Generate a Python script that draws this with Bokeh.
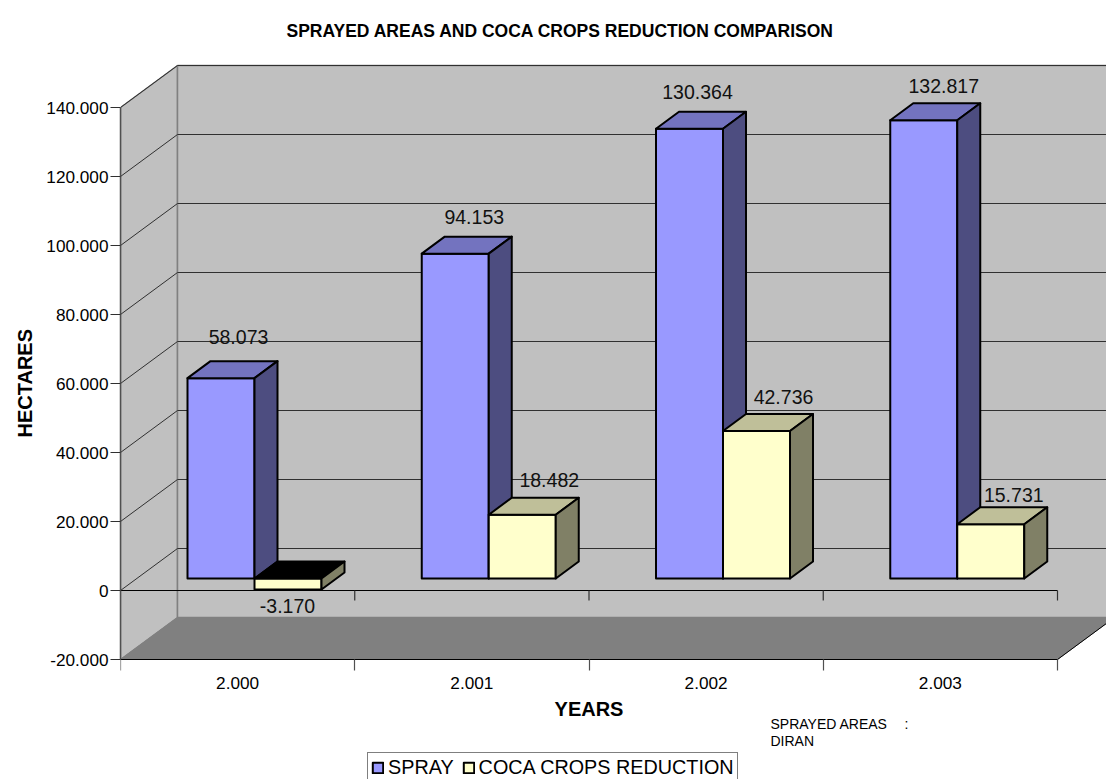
from bokeh.plotting import figure
from bokeh.models import (Range1d, LinearAxis, FixedTicker, Legend, LegendItem,
                          Label, Title)
from bokeh.core.properties import value
from bokeh.embed import file_html
from bokeh.resources import INLINE

# ---- data ----
YEARS = ["2.000", "2.001", "2.002", "2.003"]
SPRAY = [58073, 94153, 130364, 132817]
COCA = [-3170, 18482, 42736, 15731]
SPRAY_LABELS = ["58.073", "94.153", "130.364", "132.817"]
COCA_LABELS = ["-3.170", "18.482", "42.736", "15.731"]
Y_TICKS = [-20000, 0, 20000, 40000, 60000, 80000, 100000, 120000, 140000]
Y_TICK_LABELS = ["-20.000", "0", "20.000", "40.000", "60.000", "80.000", "100.000", "120.000", "140.000"]

# ---- layout constants (page pixels) ----
PX_X = 234.25          # pixels per category
PX_Y = 3.45 / 1000     # pixels per hectare
FONT = "Liberation Sans"
W, H = 1106, 779
FRAME_L, FRAME_T, AXIS_Y = 120, 40, 659
FRAME_R, FRAME_B = W, H

def ddx(px): return px / PX_X
def ddy(px): return px / PX_Y

WALL_DX, WALL_DY = ddx(57), ddy(42)
BAR_DX, BAR_DY = ddx(17), ddy(12)
DEPTH_DX, DEPTH_DY = ddx(23), ddy(17)
BAR_W = 67 / PX_X
INNER = 50 / PX_X

Y_MIN, Y_MAX = Y_TICKS[0], Y_TICKS[-1]
x_end = (FRAME_R - FRAME_L) / PX_X
y_top = Y_MIN + ddy(AXIS_Y - FRAME_T)
y_bot = Y_MIN - ddy(FRAME_B - AXIS_Y)

p = figure(width=W, height=H, output_backend="svg", toolbar_location=None,
           x_range=Range1d(0, x_end), y_range=Range1d(y_bot, y_top),
           x_axis_type=None, y_axis_type=None,
           min_border_left=FRAME_L, min_border_right=0,
           min_border_top=FRAME_T, min_border_bottom=0,
           outline_line_color=None, background_fill_color="white")

n = len(YEARS)
# walls and floor
p.patch([0, WALL_DX, WALL_DX, 0], [Y_MIN, Y_MIN + WALL_DY, Y_MAX + WALL_DY, Y_MAX],
        fill_color="#c0c0c0", line_color="#808080", line_width=1.5)
p.patch([WALL_DX, n + WALL_DX, n + WALL_DX, WALL_DX],
        [Y_MIN + WALL_DY, Y_MIN + WALL_DY, Y_MAX + WALL_DY, Y_MAX + WALL_DY],
        fill_color="#c0c0c0", line_color="#808080", line_width=1.5)
p.patch([0, WALL_DX, n + WALL_DX, n], [Y_MIN, Y_MIN + WALL_DY, Y_MIN + WALL_DY, Y_MIN],
        fill_color="#808080", line_color="#808080", line_width=1)
# gridlines
grid = [t for t in Y_TICKS if t > Y_MIN]
p.multi_line([[0, WALL_DX, n + WALL_DX] for _ in grid],
             [[t, t + WALL_DY, t + WALL_DY] for t in grid],
             line_color="#303030", line_width=1)
# floor front/right edge
p.line([0, n, n + WALL_DX], [Y_MIN, Y_MIN, Y_MIN + WALL_DY], line_color="black", line_width=1)
# zero line and its ticks
p.line([0, n], [0, 0], line_color="black", line_width=1)
p.segment(list(range(1, n + 1)), [0] * n, list(range(1, n + 1)), [-ddy(10)] * n,
          line_color="#303030", line_width=1.2)

def draw_series(vals, shift, front, top, side):
    lefts = [i + shift for i in range(n)]
    x0 = [l + BAR_DX for l in lefts]
    x1 = [l + BAR_DX + BAR_W for l in lefts]
    hi = [max(v, 0) + BAR_DY for v in vals]
    lo = [min(v, 0) + BAR_DY for v in vals]
    r = p.quad(left=x0, right=x1, top=hi, bottom=lo, fill_color=front,
               line_color="black", line_width=2, line_join="round")
    p.patches([[a, a + DEPTH_DX, b + DEPTH_DX, b] for a, b in zip(x0, x1)],
              [[h, h + DEPTH_DY, h + DEPTH_DY, h] for h in hi],
              fill_color=["black" if v < 0 else top for v in vals],
              line_color="black", line_width=2, line_join="round")
    p.patches([[b, b + DEPTH_DX, b + DEPTH_DX, b] for b in x1],
              [[h, h + DEPTH_DY, l + DEPTH_DY, l] for h, l in zip(hi, lo)],
              fill_color=side, line_color="black", line_width=2, line_join="round")
    return r, x0, hi

r1, sx0, shi = draw_series(SPRAY, INNER, "#9999ff", "#7373bf", "#4d4d80")
r2, cx0, chi = draw_series(COCA, INNER + BAR_W, "#ffffcc", "#bfbf99", "#808066")

# data labels: hand-placed nudges in the source chart (dx, dy px from bar's top-front centre)
SPRAY_NUDGE = [(17.5, 41), (19, 36.5), (8, 36.5), (20, 34.5)]
COCA_NUDGE = [(-0.5, -27), (27, 34.5), (27, 34.5), (23, 29.5)]
def place(x0s, his, nudges):
    xs = [x + BAR_W / 2 + ddx(d[0]) for x, d in zip(x0s, nudges)]
    ys = [h + ddy(d[1]) for h, d in zip(his, nudges)]
    return xs, ys
lx, ly = place(sx0, shi, SPRAY_NUDGE)
p.text(lx, ly, text=SPRAY_LABELS, text_font=value(FONT), text_font_size="19.5px",
       text_align="center", text_baseline="middle", text_color="#111111")
lx, ly = place(cx0, chi, COCA_NUDGE)
p.text(lx, ly, text=COCA_LABELS, text_font=value(FONT), text_font_size="19.5px",
       text_align="center", text_baseline="middle", text_color="#111111")

# axes
ya = LinearAxis(ticker=FixedTicker(ticks=Y_TICKS),
                major_label_overrides=dict(zip(Y_TICKS, Y_TICK_LABELS)),
                bounds=(Y_MIN, Y_MAX),
                major_tick_in=0, major_tick_out=10, minor_tick_out=0, minor_tick_in=0)
ya.axis_line_color = "#505050"; ya.axis_line_width = 1.5
ya.major_tick_line_color = "#303030"; ya.major_tick_line_width = 1.2
ya.major_label_text_font = FONT; ya.major_label_text_font_size = "17.2px"
ya.major_label_text_color = "black"; ya.major_label_standoff = 2
p.add_layout(ya, "left")
p.add_layout(Title(text="HECTARES", align="left", offset=FRAME_B - 437, standoff=16,
                   text_font=FONT, text_font_size="20px", text_font_style="bold",
                   text_color="black"), "left")

# x axis pinned to the bottom of the floor; the frame continues below it
mids = [i + 0.5 for i in range(n)]
xa = LinearAxis(ticker=FixedTicker(ticks=mids, minor_ticks=list(range(n + 1))),
                major_label_overrides=dict(zip(mids, YEARS)),
                bounds=(0, n), axis_label="YEARS", fixed_location=Y_MIN,
                major_tick_in=0, major_tick_out=0, minor_tick_out=11, minor_tick_in=0)
xa.axis_line_color = None
xa.minor_tick_line_color = "#505050"; xa.minor_tick_line_width = 1.2
xa.major_label_text_font = FONT; xa.major_label_text_font_size = "17.2px"
xa.major_label_text_color = "black"; xa.major_label_standoff = 6
xa.axis_label_text_font = FONT; xa.axis_label_text_font_size = "20px"
xa.axis_label_text_font_style = "bold"; xa.axis_label_text_color = "black"
xa.axis_label_standoff = 6
p.add_layout(xa, "below")

# legend
lg = Legend(items=[LegendItem(label="SPRAY", renderers=[r1]),
                   LegendItem(label="COCA CROPS REDUCTION", renderers=[r2])],
            orientation="horizontal", location=(367 - FRAME_L, -4),
            label_text_font=FONT, label_text_font_size="19.8px", label_text_color="black",
            glyph_width=13, glyph_height=13, label_standoff=4, spacing=8,
            padding=3, margin=0, border_line_color="black", border_line_width=1.5,
            background_fill_color="white", background_fill_alpha=1,
            label_height=20)
p.add_layout(lg, "center")

# author note
def px_x(px): return (px - FRAME_L) / PX_X
def px_y(py): return Y_MIN + ddy(AXIS_Y - py)
for txt, x, y in [("SPRAYED AREAS", 770, 723), (":", 904, 723), ("DIRAN", 770, 740)]:
    p.add_layout(Label(x=px_x(x), y=px_y(y), text=txt, text_font=FONT, text_font_size="14px",
                       text_color="black", text_baseline="middle", text_align="left"))

p.add_layout(Title(text="SPRAYED AREAS AND COCA CROPS REDUCTION COMPARISON", align="left",
                   offset=286 - FRAME_L, standoff=0, text_font=FONT, text_font_size="17.5px",
                   text_font_style="bold", text_color="black"), "above")

open("out.html", "w").write(file_html(p, INLINE))
